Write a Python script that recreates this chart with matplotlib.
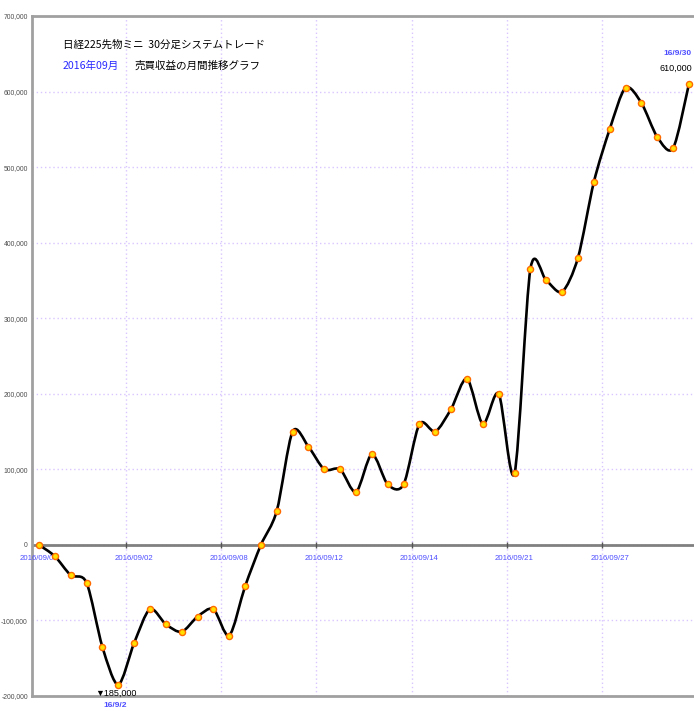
import numpy as np
import matplotlib
matplotlib.use("Agg")
import matplotlib.pyplot as plt
from matplotlib.path import Path
from matplotlib.patches import PathPatch
from matplotlib.ticker import FuncFormatter, MultipleLocator

# ---------------------------------------------data---------------------------------------------
profit = [0, -15000, -40000, -50000, -135000, -185000, -130000, -85000, -105000, -115000,
          -95000, -85000, -120000, -55000, 0, 45000, 150000, 130000, 100000, 100000,
          70000, 120000, 80000, 80000, 160000, 150000, 180000, 220000, 160000, 200000,
          95000, 365000, 350000, 335000, 380000, 480000, 550000, 605000, 585000, 540000,
          525000, 610000]
date_idx = [0, 6, 12, 18, 24, 30, 36]
date_labels = ["2016/09/01", "2016/09/02", "2016/09/08", "2016/09/12",
               "2016/09/14", "2016/09/21", "2016/09/27"]
min_label = ("▼185,000", "16/9/2")
max_label = ("610,000", "16/9/30")
title1 = "日経225先物ミニ  30分足システムトレード"
title2a = "2016年09月"
title2b = "売買収益の月間推移グラフ"

narrow = ["Liberation Sans", "DejaVu Sans"]
jp = ["Noto Sans CJK JP", "DejaVu Sans"]
blue = "#4d4dff"
grid_c = "#d9c6ff"

fig = plt.figure(figsize=(6.94, 7.11), dpi=100)
ax = fig.add_axes([32 / 694, 15 / 711, 1 - 32 / 694, 680 / 711])

x = np.arange(len(profit))
y = np.array(profit, dtype=float)

# smooth line through the points (catmull-rom -> bezier, a bit tighter)
pts = np.column_stack([x, y])
verts = [pts[0]]
codes = [Path.MOVETO]
for i in range(len(pts) - 1):
    p0 = pts[i - 1] if i > 0 else pts[i]
    p1 = pts[i]
    p2 = pts[i + 1]
    p3 = pts[i + 2] if i + 2 < len(pts) else pts[i + 1]
    verts += [p1 + (p2 - p0) / 7, p2 - (p3 - p1) / 7, p2]
    codes += [Path.CURVE4] * 3
ax.add_patch(PathPatch(Path(verts, codes), fill=False, lw=1.9, ec="black",
                       capstyle="round", joinstyle="round", zorder=3))
ax.plot(x, y, "o", ms=4.4, mfc="#ffe000", mec="#ff6a00", mew=1.0, zorder=4)

ax.set_xlim(-0.44, 41.32)
ax.set_ylim(-200000, 700000)

# grid
ax.yaxis.set_major_locator(MultipleLocator(100000))
ax.yaxis.set_major_formatter(FuncFormatter(lambda v, p: "{:,.0f}".format(v)))
ax.set_xticks([i - 0.5 for i in date_idx[1:]])
ax.set_xticklabels([])
ax.tick_params(axis="x", length=0)
ax.tick_params(axis="y", length=0, pad=3, labelcolor="#4d4d4d")
for lab in ax.get_yticklabels():
    lab.set_family(narrow)
    lab.set_fontsize(4.9)
ax.grid(True, color=grid_c, ls=(0, (1, 2)), lw=1.0)
ax.axhline(0, color="#808080", lw=2, zorder=2)
ax.plot([i - 0.5 for i in date_idx[1:]], [0] * (len(date_idx) - 1), "|",
        color="#555555", ms=5, mew=1, zorder=2)

for s in ["left", "top", "bottom"]:
    ax.spines[s].set_color("#a0a0a0")
    ax.spines[s].set_linewidth(2)
ax.spines["right"].set_visible(False)

# date labels under the zero line
for i, lab in zip(date_idx, date_labels):
    ax.annotate(lab, xy=(i, 0), xytext=(0, -9.5), textcoords="offset points",
                ha="center", va="center", color=blue, fontsize=5.6,
                family=narrow, annotation_clip=False)

# min / max annotations
imin = int(np.argmin(y))
imax = int(np.argmax(y))
ax.annotate(min_label[0], xy=(imin, y[imin]), xytext=(-1.5, -6), textcoords="offset points",
            ha="center", va="center", fontsize=6.5, family=narrow, color="black",
            annotation_clip=False, zorder=5)
ax.annotate(min_label[1], xy=(imin, y[imin]), xytext=(-2, -15), textcoords="offset points",
            ha="center", va="center", fontsize=6, family=narrow, color=blue,
            fontweight="bold", annotation_clip=False, zorder=5)
ax.annotate(max_label[0], xy=(imax, y[imax]), xytext=(2, 11), textcoords="offset points",
            ha="right", va="center", fontsize=6.5, family=narrow, color="black",
            annotation_clip=False, zorder=5)
ax.annotate(max_label[1], xy=(imax, y[imax]), xytext=(2, 22), textcoords="offset points",
            ha="right", va="center", fontsize=6, family=narrow, color=blue,
            fontweight="bold", annotation_clip=False, zorder=5)

# title lines
fig.text(63 / 694, 1 - 45 / 711, title1, family=jp, fontsize=7.6, color="black",
         ha="left", va="center")
fig.text(63 / 694, 1 - 66 / 711, title2a, family=jp, fontsize=7.6, color="#2a2aff",
         ha="left", va="center")
fig.text(135 / 694, 1 - 66 / 711, title2b, family=jp, fontsize=7.6, color="black",
         ha="left", va="center")

fig.savefig("out.png", dpi=100)
